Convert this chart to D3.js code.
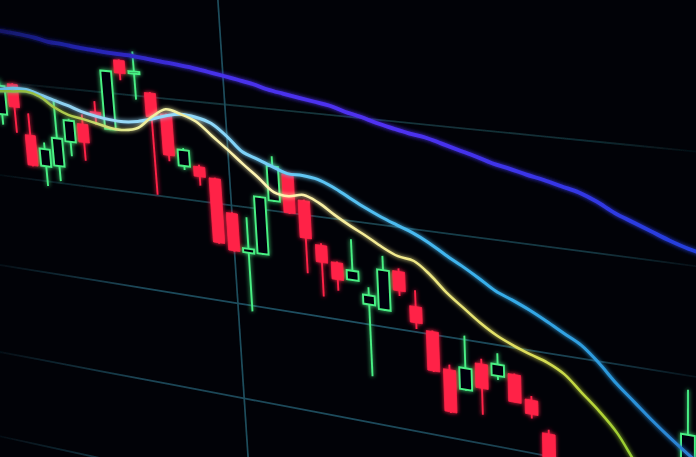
<!DOCTYPE html>
<html>
<head>
<meta charset="utf-8">
<script src="https://cdn.jsdelivr.net/npm/d3@7"></script>
<style>
html,body{margin:0;padding:0;background:#000;overflow:hidden}
svg{display:block;background:#010207}
</style>
</head>
<body>
<svg id="chart" width="696" height="457"></svg>
<script>
// ---------------- DATA ----------------
// candle index (time slot)
const candleIndex = [-1,0,1,2,3,4,5,6,7,8,9,10,11,12,13,14,15,16,17,18,19,20,21,22,23,24,25,26,27,28,29,30,31,32,33,34,35,36,37,38,39,40,41,42,43];
const openP  = [96.6,99.9,94.7,91.6,91.8,94.5,96.5,97.9,96.3,103.4,102.2,100.4,98.4,93.4,93.5,92.5,89.2,85.4,85.5,91.0,93.8,91.4,87.2,85.7,84.2,82.0,81.7,85.7,82.5,80.3,76.8,75.1,77.9,77.0,77.4,75.2,72.2,68.4,66.5,65.0,62.3,63.8,60.4,59.0,58.5];
const highP  = [100.3,100.0,97.0,94.1,98.6,96.9,97.5,99.0,102.3,103.5,104.4,100.5,98.5,95.2,93.7,92.6,89.3,89.0,91.3,95.4,93.9,91.5,87.4,85.8,88.2,83.7,87.0,86.0,84.1,80.4,77.3,80.4,78.4,79.2,77.5,75.6,72.6,69.0,67.8,66.2,64.6,64.2,61.5,60.2,78.7];
const lowP   = [95.5,94.8,91.4,89.5,90.2,93.0,92.7,96.6,96.2,101.4,99.6,90.1,93.7,93.0,91.6,85.9,85.3,79.4,85.4,90.9,89.9,84.2,82.1,82.9,84.1,74.8,81.6,83.3,80.3,76.3,72.5,75.0,72.9,76.6,74.7,73.4,67.4,65.8,64.2,61.5,61.0,59.6,57.8,56.5,57.9];
const closeP = [99.6,97.5,91.5,93.4,94.7,96.7,94.6,97.6,102.2,102.1,102.4,98.0,94.3,95.0,92.5,86.0,85.4,85.8,91.2,94.4,90.0,87.7,85.5,84.0,85.1,82.9,85.6,83.8,80.9,76.4,72.6,77.2,75.5,78.1,74.7,73.8,68.4,66.5,65.0,62.3,63.8,60.4,59.0,58.2,74.5];

// moving averages, one value per time slot
const maIndex = [-2,-1,0,1,2,3,4,5,6,7,8,9,10,11,12,13,14,15,16,17,18,19,20,21,22,23,24,25,26,27,28,29,30,31,32,33,34,35,36,37,38,39,40,41,42,43,44];
const maLong  = [105.61,105.42,105.30,105.16,104.96,104.64,104.53,104.34,104.22,104.10,104.01,103.95,103.79,103.63,103.48,103.30,103.05,102.80,102.54,102.26,101.87,101.61,101.37,101.13,100.90,100.45,100.12,99.68,99.34,99.03,98.80,98.39,97.97,97.56,97.08,96.76,96.38,96.07,95.68,95.31,94.66,93.83,93.21,92.59,91.97,91.46,91.12];
const maMid   = [99.07,99.24,99.48,99.48,99.10,98.68,98.27,97.79,97.48,97.27,97.21,97.40,97.80,98.29,98.59,98.44,98.00,96.86,95.51,94.95,94.39,93.87,93.86,93.66,93.07,92.27,91.48,90.79,90.20,89.64,88.88,87.94,87.09,86.16,85.17,84.53,83.83,83.01,82.13,81.27,79.86,78.18,76.73,75.28,73.94,72.70,71.60];
const maShort = [98.85,99.02,99.15,99.27,98.88,97.93,97.30,97.04,96.74,96.42,96.36,96.76,98.01,98.92,98.59,98.02,96.77,95.53,94.29,93.12,91.87,91.65,91.96,91.37,90.39,89.51,88.73,87.86,87.18,86.93,85.80,84.30,83.08,81.89,80.91,80.20,79.61,79.09,78.23,76.74,75.26,73.52,71.08,68.85,66.90,65.43,64.42];

// grid
const priceTicks = [100,90,80,70,60];
const timeMarks = [15];

// ---------------- LAYOUT ----------------
const W = 696, H = 457;
const svg = d3.select("#chart");

// perspective of the photographed screen: unit square -> quad (homography)
const quad = [[224.8,104.5],[542.9,136.3],[549.2,456.3],[244.2,398.4]];
function homography(Q){
  const [[x0,y0],[x1,y1],[x2,y2],[x3,y3]] = Q;
  const sx = x0-x1+x2-x3, sy = y0-y1+y2-y3;
  const dx1 = x1-x2, dx2 = x3-x2, dy1 = y1-y2, dy2 = y3-y2;
  const den = dx1*dy2 - dy1*dx2;
  const g = (sx*dy2 - sy*dx2)/den;
  const h = (dx1*sy - dy1*sx)/den;
  const a = x1-x0+g*x1, b = x3-x0+h*x3, c = x0;
  const d = y1-y0+g*y1, e = y3-y0+h*y3, f = y0;
  return (u,v) => { const w = g*u+h*v+1; return [(a*u+b*v+c)/w, (d*u+e*v+f)/w]; };
}
const warp = homography(quad);
const x = d3.scaleLinear().domain([0,10,15,35]).range([-0.786,-0.264,0,1]);
const y = d3.scaleLinear().domain([100,70]).range([0,1]);
const P = (k,p) => warp(x(k), y(p));

// ---------------- DEFS ----------------
const defs = svg.append("defs");
const glow = defs.append("filter").attr("id","glow").attr("x","-20%").attr("y","-20%").attr("width","140%").attr("height","140%");
glow.append("feGaussianBlur").attr("in","SourceGraphic").attr("stdDeviation",2.2).attr("result","b");
const mg = glow.append("feMerge");
mg.append("feMergeNode").attr("in","b");
mg.append("feMergeNode").attr("in","SourceGraphic");

const soft = defs.append("filter").attr("id","soft").attr("x","-20%").attr("y","-20%").attr("width","140%").attr("height","140%");
soft.append("feGaussianBlur").attr("stdDeviation",0.7);

function grad(id, stops, attrs){
  const g = defs.append("linearGradient").attr("id",id)
    .attr("gradientUnits","userSpaceOnUse").attr("x1",0).attr("y1",0).attr("x2",W).attr("y2",0);
  stops.forEach(([o,c,op]) => g.append("stop").attr("offset",o).attr("stop-color",c).attr("stop-opacity", op == null ? 1 : op));
}
grad("gLong", [[0,"#121866"],[0.12,"#2224b0"],[0.3,"#4630ea"],[0.55,"#5030f2"],[0.8,"#3636e6"],[1,"#2440dc"]]);
grad("gMid",  [[0,"#62b8de"],[0.12,"#9ad8f6"],[0.3,"#8ed8fa"],[0.45,"#5ec6f4"],[0.7,"#38b0ec"],[0.88,"#2c98dc"],[1,"#2a7cd0"]]);
grad("gShort",[[0,"#84b43a"],[0.1,"#b0cc4e"],[0.2,"#eeee9c"],[0.38,"#fff4b4"],[0.58,"#f2ea8c"],[0.76,"#dede5a"],[0.86,"#b4d436"],[1,"#58bc26"]]);

// grid lines fade towards the photo's edges
const gridCol = d3.scaleLinear().domain([100,80,60]).range(["#14353c","#1f5062","#1a4656"]);
priceTicks.forEach((p,i) => grad("gGrid"+i, [[0,gridCol(p),0.15],[0.2,gridCol(p),0.9],[0.5,gridCol(p),1],[0.85,gridCol(p),0.8],[1,gridCol(p),0.2]]));

// ---------------- GRID ----------------
const line = d3.line();
const gridG = svg.append("g").attr("filter","url(#soft)");
const kSpan = d3.range(-40, 90, 5);
gridG.selectAll("path.h").data(priceTicks).join("path")
  .attr("class","h")
  .attr("d", p => line(kSpan.map(k => P(k,p))))
  .attr("fill","none").attr("stroke", (p,i) => `url(#gGrid${i})`).attr("stroke-width",1.8);
gridG.selectAll("path.v").data(timeMarks).join("path")
  .attr("class","v")
  .attr("d", k => line([P(k,125), P(k,40)]))
  .attr("fill","none").attr("stroke","#1f4d5c").attr("stroke-width",1.7);

// ---------------- CANDLES ----------------
const candles = candleIndex.map((k,i) => ({k, o:openP[i], h:highP[i], l:lowP[i], c:closeP[i]}));
const hw = 0.38;
const red = "#ff2246", green = "#48f084";
const cg = svg.append("g").attr("filter","url(#glow)");
cg.selectAll("path.wick").data(candles).join("path")
  .attr("class","wick")
  .attr("d", d => line([P(d.k,d.h), P(d.k,d.l)]))
  .attr("stroke", d => d.c >= d.o ? green : red)
  .attr("stroke-width",1.9).attr("fill","none");
cg.selectAll("path.body").data(candles).join("path")
  .attr("class","body")
  .attr("d", d => {
    const top = Math.max(d.o,d.c), bot = Math.min(d.o,d.c);
    return line([P(d.k-hw,top),P(d.k+hw,top),P(d.k+hw,bot),P(d.k-hw,bot)]) + "Z";
  })
  .attr("fill", d => d.c >= d.o ? "#010207" : red)
  .attr("stroke", d => d.c >= d.o ? green : red)
  .attr("stroke-width", d => d.c >= d.o ? 1.9 : 0.8)
  .attr("stroke-linejoin","miter");

// ---------------- MOVING AVERAGES ----------------
const curve = d3.line().curve(d3.curveCatmullRom.alpha(0.5));
const maG = svg.append("g").attr("filter","url(#glow)");
[[maLong,"url(#gLong)",3.8],[maMid,"url(#gMid)",3.0],[maShort,"url(#gShort)",2.5]].forEach(([vals,col,wd]) => {
  maG.append("path")
    .attr("d", curve(maIndex.map((k,i) => P(k, vals[i]))))
    .attr("fill","none").attr("stroke",col).attr("stroke-width",wd)
    .attr("stroke-linecap","round").attr("stroke-linejoin","round");
});
</script>
</body>
</html>
